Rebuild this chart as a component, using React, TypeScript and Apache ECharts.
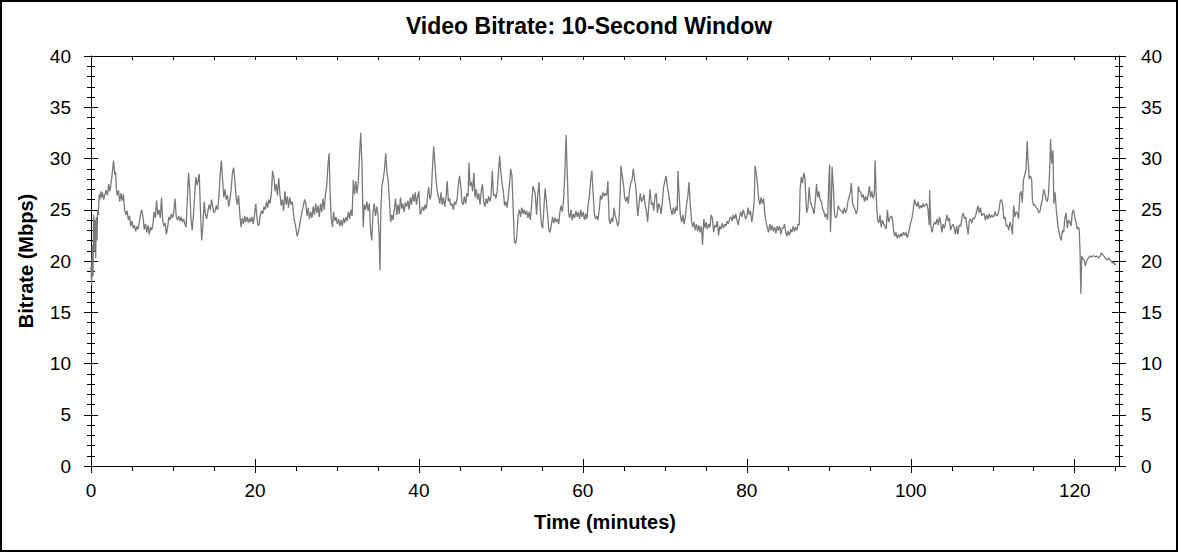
import React, { useEffect, useRef } from "react";
import * as echarts from "echarts";

// Time (minutes) / bitrate (Mbps) pairs.
const segment0to20: number[][] = [
  [0, 19.5], [0.08, 17.6], [0.16, 21.5], [0.24, 18.5], [0.33, 24.5], [0.41, 21], [0.49, 24], [0.57, 20.3], [0.65, 24.3], [0.73, 22],
  [0.81, 25], [0.9, 24.5], [1, 26.5], [1.1, 26], [1.2, 26.8], [1.3, 26.2], [1.4, 26.7], [1.55, 26], [1.7, 26.5], [1.85, 26.9],
  [2, 26.4], [2.15, 27.5], [2.3, 26.8], [2.45, 27.6], [2.6, 28.6], [2.75, 29.8], [2.9, 28.4], [3, 28.7], [3.1, 27], [3.2, 26.4],
  [3.35, 26.9], [3.5, 25.8], [3.65, 26.6], [3.8, 25.9], [3.95, 26.5], [4.1, 25], [4.25, 24.5], [4.4, 24.9], [4.55, 24], [4.7, 24.4],
  [4.85, 23.4], [5, 23.9], [5.15, 23.2], [5.3, 23.5], [5.45, 22.9], [5.6, 23.4], [5.75, 23.1], [5.9, 23.8], [6.05, 24.6], [6.2, 25],
  [6.35, 24.2], [6.5, 23.1], [6.65, 23.6], [6.8, 22.8], [6.95, 23.5], [7.1, 22.6], [7.25, 23.3], [7.4, 23], [7.55, 23.6], [7.7, 24.8],
  [7.85, 24.2], [8, 25.9], [8.15, 24.5], [8.3, 25], [8.45, 24.2], [8.6, 26.2], [8.75, 23.9], [8.9, 23.4], [9.05, 23.7], [9.2, 22.6],
  [9.35, 23.3], [9.5, 24.3], [9.65, 24], [9.8, 24.6], [9.95, 24.2], [10.1, 24.8], [10.25, 26.1], [10.4, 24.3], [10.55, 24], [10.7, 24.4],
  [10.85, 23.9], [11, 24.3], [11.15, 23.8], [11.3, 24.1], [11.45, 23.6], [11.6, 23.3], [11.75, 26], [11.9, 28.6], [12.05, 27], [12.2, 24],
  [12.35, 23], [12.5, 24.5], [12.65, 26.5], [12.8, 28.2], [12.95, 27.4], [13.1, 28], [13.2, 28.5], [13.35, 25], [13.5, 22], [13.65, 23.5],
  [13.8, 25.8], [13.95, 24.6], [14.1, 24.1], [14.25, 24.8], [14.4, 25.5], [14.55, 25], [14.7, 26], [14.85, 25.3], [15, 24.7], [15.15, 24.9],
  [15.3, 25.4], [15.45, 25], [15.6, 26.2], [15.75, 28.3], [15.9, 29.8], [16.05, 28], [16.2, 26.2], [16.35, 27], [16.5, 26], [16.65, 26.4],
  [16.8, 25.3], [16.95, 26], [17.1, 27], [17.25, 28.6], [17.4, 29.1], [17.55, 27.8], [17.7, 26.2], [17.85, 25.5], [18, 26.4], [18.15, 24.6],
  [18.3, 23.3], [18.45, 24.2], [18.6, 23.6], [18.75, 24.4], [18.9, 23.8], [19.05, 24.3], [19.2, 23.7], [19.35, 24.2], [19.5, 23.8], [19.65, 24.3],
  [19.8, 23.6], [19.95, 24.5], [20.1, 25.6], [20.25, 24.2], [20.35, 23.5],
];

const segment20to41: number[][] = [
  [20.5, 23.5], [20.65, 24.5], [20.8, 24.9], [20.95, 24.6], [21.1, 25.3], [21.25, 25], [21.4, 25.8], [21.55, 25.2], [21.7, 26], [21.85, 25.6],
  [22, 26.6], [22.15, 28.8], [22.3, 28.2], [22.45, 26.8], [22.6, 27.5], [22.75, 26.4], [22.9, 28.1], [23.05, 26.5], [23.2, 25.4], [23.35, 26],
  [23.5, 24.9], [23.65, 26.8], [23.8, 25.5], [23.95, 26.3], [24.1, 25.2], [24.25, 26.2], [24.4, 25.5], [24.55, 25.8], [24.7, 24.6], [24.85, 23.8],
  [25, 23.2], [25.15, 22.4], [25.3, 22.8], [25.45, 23.5], [25.6, 24.2], [25.75, 24.9], [25.9, 25.4], [26.05, 26], [26.2, 25.6], [26.35, 24.4],
  [26.5, 25.2], [26.65, 24.1], [26.8, 24.8], [26.95, 24.2], [27.1, 25.3], [27.25, 24.5], [27.4, 25.6], [27.55, 24.7], [27.7, 25.4], [27.85, 24.3],
  [28, 25.6], [28.15, 24.8], [28.3, 26.1], [28.45, 25], [28.6, 26.5], [28.75, 27.3], [28.9, 29.3], [29.05, 30.5], [29.15, 27], [29.3, 24.2],
  [29.45, 23.3], [29.6, 24.8], [29.75, 23.9], [29.9, 24.3], [30.05, 23.6], [30.2, 24.1], [30.35, 23.4], [30.5, 24], [30.65, 23.4], [30.8, 24.2],
  [30.95, 23.7], [31.1, 24.3], [31.25, 23.9], [31.4, 24.8], [31.55, 24.1], [31.7, 25], [31.85, 24.4], [32, 27.9], [32.15, 26.5], [32.3, 27.8],
  [32.45, 26.6], [32.6, 27.6], [32.75, 30.3], [32.9, 32.5], [33.05, 29.5], [33.2, 23.3], [33.35, 25.5], [33.5, 25], [33.65, 25.8], [33.8, 24.9],
  [33.95, 25.6], [34.1, 23], [34.25, 22], [34.4, 24.8], [34.55, 25.6], [34.7, 24.4], [34.85, 25.3], [35, 24.5], [35.15, 22.5], [35.25, 19.1],
  [35.35, 24.8], [35.5, 27.4], [35.65, 28], [35.8, 28.9], [35.95, 30.5], [36.1, 28.6], [36.25, 27.8], [36.4, 26], [36.55, 23.8], [36.7, 24.5],
  [36.85, 24], [37, 25], [37.15, 26.1], [37.3, 24.5], [37.45, 25.5], [37.6, 24.6], [37.75, 26.2], [37.9, 25.1], [38.05, 25.6], [38.2, 24.8],
  [38.35, 25.7], [38.5, 25.3], [38.65, 25.9], [38.8, 25], [38.95, 26.2], [39.1, 25.5], [39.25, 26.5], [39.4, 25.8], [39.55, 26.7], [39.7, 25.5],
  [39.85, 26.3], [40, 26.8], [40.15, 24.5], [40.3, 24.9], [40.45, 25.3], [40.6, 24.9], [40.75, 25.5], [40.9, 25.1], [41.05, 26.3], [41.2, 27.2],
  [41.35, 26],
];

const segment41to63: number[][] = [
  [41.5, 26.5], [41.65, 29], [41.8, 31.2], [41.95, 29.5], [42.1, 27.8], [42.25, 26.8], [42.4, 26.2], [42.55, 25.6], [42.7, 26.7], [42.85, 25.5],
  [43, 26.2], [43.15, 25.3], [43.3, 26.1], [43.45, 27.8], [43.6, 25.8], [43.75, 26.1], [43.9, 25.4], [44.05, 25.6], [44.2, 25], [44.35, 25.8],
  [44.5, 25.5], [44.65, 26], [44.8, 27.3], [44.95, 28.3], [45.1, 27.4], [45.25, 25.7], [45.4, 25.5], [45.55, 26.3], [45.7, 25.6], [45.85, 26.6],
  [46, 26.3], [46.1, 29.6], [46.25, 27.3], [46.4, 27.7], [46.55, 26.8], [46.7, 28.6], [46.85, 26.2], [47, 27], [47.15, 26], [47.3, 26.6],
  [47.45, 25.5], [47.6, 26.8], [47.75, 27.5], [47.9, 25.8], [48.05, 25.3], [48.2, 26.1], [48.35, 25.6], [48.5, 26.3], [48.65, 25.8], [48.8, 26.4],
  [48.95, 28.8], [49.1, 26.4], [49.25, 26.5], [49.4, 26.1], [49.55, 26.8], [49.7, 28.6], [49.85, 30.3], [50, 28.6], [50.15, 27.5], [50.3, 26.8],
  [50.45, 25.4], [50.6, 25.8], [50.75, 25.2], [50.9, 26.2], [51.05, 27.5], [51.2, 29], [51.35, 28.3], [51.5, 25], [51.65, 21.9], [51.8, 21.7],
  [51.95, 22.5], [52.1, 24.5], [52.25, 25], [52.4, 24.3], [52.55, 25.2], [52.7, 24.6], [52.85, 25], [53, 24.5], [53.15, 24.9], [53.3, 24.2],
  [53.45, 24.8], [53.6, 24], [53.75, 25.5], [53.9, 27.3], [54.05, 27], [54.2, 26.5], [54.35, 24.5], [54.5, 26.5], [54.65, 27.7], [54.8, 25],
  [54.95, 23.6], [55.1, 23.2], [55.25, 25.2], [55.4, 27.1], [55.55, 25.8], [55.7, 24.5], [55.85, 23], [56, 22.8], [56.15, 23.5], [56.3, 24.3],
  [56.45, 23.7], [56.6, 24.2], [56.75, 23.8], [56.9, 24.1], [57.05, 23.6], [57.2, 24.8], [57.35, 25.4], [57.5, 24.8], [57.65, 26], [57.8, 28.5],
  [57.95, 32.3], [58.1, 28.5], [58.25, 24.7], [58.4, 24.2], [58.55, 25], [58.7, 24], [58.85, 24.6], [59, 24.2], [59.15, 24.9], [59.3, 24.3],
  [59.45, 24.8], [59.6, 24.1], [59.75, 25], [59.9, 24.3], [60.05, 24.8], [60.2, 24], [60.35, 24.6], [60.5, 24.1], [60.65, 25.6], [60.8, 26.3],
  [60.95, 27.8], [61.1, 28.8], [61.25, 26.6], [61.4, 24.7], [61.55, 24.1], [61.7, 24.4], [61.85, 24], [62, 25], [62.15, 26.4], [62.3, 26],
  [62.45, 26.7], [62.6, 26.3], [62.75, 26.6], [62.9, 26.4], [63.05, 27.8],
];

const segment63to84: number[][] = [
  [63.2, 24], [63.35, 23.6], [63.5, 24.2], [63.65, 23.8], [63.8, 25.2], [63.95, 24.4], [64.1, 24], [64.25, 23.4], [64.4, 23.8], [64.55, 26.5],
  [64.65, 29.3], [64.8, 28.3], [64.95, 27.5], [65.1, 26.2], [65.25, 25.8], [65.4, 26.3], [65.55, 25.6], [65.7, 27], [65.85, 27.6], [66, 27.9],
  [66.15, 29], [66.3, 28], [66.45, 27.3], [66.6, 25.5], [66.7, 24.4], [66.85, 25.5], [67, 26.6], [67.15, 25.8], [67.3, 26], [67.45, 26.5],
  [67.6, 25.4], [67.75, 24.9], [67.9, 23.8], [68.05, 25.5], [68.2, 27], [68.35, 25.5], [68.5, 25.7], [68.65, 24.9], [68.8, 26.4], [68.95, 26.6],
  [69.1, 24.7], [69.25, 25.6], [69.4, 25.3], [69.55, 24.6], [69.7, 25.8], [69.85, 27.2], [70, 27.8], [70.15, 28.3], [70.3, 27.3], [70.45, 26.6],
  [70.6, 25.7], [70.75, 24.9], [70.9, 24.5], [71.05, 25.2], [71.2, 24.6], [71.35, 25.3], [71.5, 24.9], [71.6, 28.8], [71.75, 26.3], [71.9, 24.4],
  [72.05, 23.8], [72.2, 24.5], [72.35, 23.6], [72.5, 24.3], [72.65, 25.5], [72.8, 26.3], [72.95, 27.7], [73.1, 25.5], [73.25, 24], [73.4, 23.3],
  [73.55, 23.8], [73.7, 23], [73.85, 23.6], [74, 22.9], [74.15, 23.5], [74.3, 22.8], [74.45, 23.4], [74.6, 21.6], [74.75, 24.1], [74.9, 23.2],
  [75.05, 23.8], [75.2, 23.1], [75.35, 23.6], [75.5, 23.3], [75.65, 24.5], [75.8, 24.2], [75.95, 22.8], [76.1, 23.5], [76.25, 23.3], [76.4, 23.9],
  [76.55, 22.5], [76.7, 23.4], [76.85, 23.1], [77, 23.7], [77.15, 23.2], [77.3, 23.6], [77.45, 23.4], [77.6, 23.9], [77.75, 23.6], [77.9, 24.1],
  [78.05, 24.3], [78.2, 23.9], [78.35, 24.5], [78.5, 24.1], [78.65, 24.6], [78.8, 24], [78.95, 23.5], [79.1, 24.2], [79.25, 24.8], [79.4, 24.3],
  [79.55, 25], [79.7, 24.6], [79.85, 24.1], [80, 24.4], [80.15, 25.2], [80.3, 24.5], [80.45, 24.9], [80.6, 23.8], [80.75, 24.6], [80.9, 25.8],
  [81, 29.3], [81.15, 28.6], [81.3, 27.5], [81.45, 26], [81.6, 25.5], [81.75, 26.2], [81.9, 25.6], [82.05, 26.1], [82.2, 24.6], [82.35, 23.8],
  [82.5, 23.2], [82.65, 22.8], [82.8, 23.6], [82.95, 23], [83.1, 23.5], [83.25, 22.9], [83.4, 23.3], [83.55, 22.7], [83.7, 23.4], [83.85, 23],
  [84, 23.4], [84.15, 22.6], [84.3, 23.2],
];

const segment84to105: number[][] = [
  [84.45, 23.2], [84.6, 23.6], [84.75, 22.8], [84.9, 22.4], [85.05, 22.9], [85.2, 22.5], [85.35, 23.1], [85.5, 22.8], [85.65, 23.4], [85.8, 22.9],
  [85.95, 23.3], [86.1, 23], [86.25, 23.6], [86.4, 23.5], [86.5, 27], [86.65, 28.2], [86.8, 27.6], [86.95, 28.6], [87.1, 28], [87.2, 26],
  [87.3, 24.7], [87.45, 25.2], [87.6, 27.2], [87.75, 25.8], [87.9, 25.4], [88.05, 25.1], [88.2, 24.6], [88.35, 25.8], [88.5, 27.5], [88.65, 26.2],
  [88.8, 26.8], [88.95, 25.9], [89.1, 25.8], [89.25, 25.1], [89.4, 24.8], [89.55, 24.3], [89.7, 24.6], [89.85, 24], [90, 27.7], [90.1, 29.4],
  [90.2, 22.8], [90.3, 25], [90.4, 29.2], [90.55, 27.3], [90.7, 24.5], [90.85, 24.2], [91, 24.5], [91.15, 25.4], [91.3, 25.1], [91.45, 24.9],
  [91.6, 24.9], [91.75, 24.6], [91.9, 25.2], [92.05, 24.7], [92.2, 25], [92.35, 25.9], [92.5, 26.3], [92.65, 26.8], [92.75, 27.6], [92.9, 25.6],
  [93.05, 25.3], [93.2, 25], [93.35, 24.6], [93.5, 25], [93.6, 27.3], [93.75, 26.8], [93.9, 26.7], [94.05, 26.2], [94.2, 26.5], [94.35, 25.8],
  [94.5, 26.3], [94.65, 25.9], [94.8, 26.4], [94.95, 27.3], [95.1, 26.2], [95.25, 26.8], [95.4, 26.1], [95.55, 26.5], [95.65, 29.8], [95.8, 26],
  [95.95, 24], [96.1, 23.7], [96.25, 24.5], [96.4, 23.3], [96.55, 24], [96.7, 23.6], [96.85, 23.4], [97, 23.1], [97.15, 25], [97.3, 23.8],
  [97.45, 24.1], [97.6, 24.4], [97.75, 24.2], [97.9, 23], [98.05, 22.4], [98.2, 22.8], [98.35, 22.2], [98.5, 22.6], [98.65, 22.3], [98.8, 22.7],
  [98.95, 22.4], [99.1, 22.8], [99.25, 22.5], [99.4, 22.8], [99.55, 22.3], [99.7, 22.6], [99.85, 23.2], [100, 23.8], [100.15, 24.2], [100.3, 25],
  [100.45, 26], [100.6, 25.6], [100.75, 25.3], [100.9, 25.8], [101.05, 25.1], [101.2, 25.4], [101.35, 25.2], [101.5, 25.6], [101.65, 25.3], [101.8, 25.5],
  [101.95, 25.6], [102.1, 25], [102.25, 23.5], [102.3, 26.9], [102.45, 23.4], [102.6, 22.8], [102.75, 23.4], [102.9, 23.8], [103.05, 23.6], [103.2, 24.1],
  [103.35, 23.5], [103.5, 24.3], [103.65, 23.7], [103.8, 22.8], [103.95, 23.6], [104.1, 23.2], [104.25, 23.8], [104.4, 24.5], [104.55, 23.9], [104.7, 24.2],
  [104.85, 23], [105, 23.4], [105.15, 23.6], [105.3, 23.2], [105.45, 22.6],
];

const segment105to125: number[][] = [
  [105.6, 23.4], [105.75, 22.6], [105.9, 23.5], [106.1, 23.4], [106.25, 24.3], [106.4, 24.7], [106.55, 24.1], [106.7, 24.3], [106.85, 23.4], [107, 22.6],
  [107.15, 24], [107.3, 24.1], [107.45, 23.7], [107.6, 24.2], [107.75, 24.1], [107.9, 24.4], [108.05, 24.9], [108.2, 25.4], [108.35, 24.7], [108.5, 25.2],
  [108.65, 24.4], [108.8, 24.6], [108.95, 24.6], [109.1, 24], [109.25, 24.5], [109.4, 24.1], [109.55, 24.6], [109.7, 24.2], [109.85, 24.5], [110, 24.3],
  [110.15, 24.4], [110.3, 24.8], [110.45, 24.4], [110.6, 24.5], [110.75, 24.9], [110.9, 25.8], [111.05, 26], [111.2, 25.6], [111.35, 24.1], [111.5, 24.3],
  [111.65, 23.4], [111.8, 23.5], [111.95, 23], [112.1, 23.8], [112.25, 23.4], [112.4, 22.6], [112.55, 25.4], [112.7, 24.3], [112.85, 24.8], [113, 24.7],
  [113.15, 24.1], [113.3, 26.5], [113.45, 26.8], [113.6, 25.7], [113.75, 27.9], [113.9, 28.4], [114.05, 28.9], [114.2, 31.7], [114.3, 29.9], [114.45, 28],
  [114.6, 28.3], [114.75, 27.9], [114.85, 25.8], [115, 25.4], [115.15, 25.5], [115.3, 25.2], [115.45, 25.1], [115.6, 24.7], [115.75, 24.8], [115.9, 25.5],
  [116.05, 26], [116.2, 27], [116.35, 26.6], [116.5, 26], [116.65, 25.8], [116.8, 26.5], [116.95, 29], [117.05, 31.9], [117.2, 29.5], [117.35, 30.8],
  [117.45, 25.6], [117.6, 26.7], [117.75, 25], [117.9, 23.8], [118.05, 22.9], [118.2, 22.4], [118.35, 22], [118.5, 23], [118.65, 22.8], [118.8, 24.2],
  [118.95, 24.7], [119.1, 23.2], [119.25, 24], [119.4, 23.8], [119.55, 23.4], [119.7, 24.7], [119.85, 25], [120, 24.3], [120.15, 23.8], [120.3, 23.1],
  [120.45, 23.3], [120.55, 23.1], [120.65, 20.8], [120.75, 16.8], [120.85, 20.5], [121, 20.2], [121.15, 20.1], [121.3, 19.5], [121.45, 20], [121.6, 20.2],
  [121.75, 20.4], [121.9, 20.5], [122.05, 20.4], [122.2, 20.5], [122.35, 20.5], [122.5, 20.4], [122.65, 20.5], [122.8, 20.4], [122.95, 20.3], [123.1, 20.5],
  [123.25, 20.8], [123.4, 20.6], [123.55, 20.5], [123.7, 20.3], [123.85, 20.2], [124, 20.1], [124.15, 20.3], [124.3, 20.1], [124.45, 20], [124.6, 19.8],
  [124.75, 19.9], [124.9, 19.6], [125.05, 19.7],
];

const xMajorTicks = [0, 20, 40, 60, 80, 100, 120];
const xMinorTicks = [0, 5, 10, 15, 20, 25, 30, 35, 40, 45, 50, 55, 60, 65, 70, 75, 80, 85, 90, 95, 100, 105, 110, 115, 120, 125];
const xMax = 125.4;
const yMin = 0;
const yMax = 40;
const yStep = 5;

const TITLE = "Video Bitrate: 10-Second Window";
const X_NAME = "Time (minutes)";
const Y_NAME = "Bitrate (Mbps)";

const FONT = '"Liberation Sans", Arial, sans-serif';
const BLACK = "#000";

export default function App() {
  const ref = useRef<HTMLDivElement>(null);

  useEffect(() => {
    if (!ref.current) return;
    const chart = echarts.init(ref.current, undefined, { renderer: "svg" });
    const data = ([] as number[][]).concat(
      segment0to20,
      segment20to41,
      segment41to63,
      segment63to84,
      segment84to105,
      segment105to125
    );

    const tickLine = { color: BLACK, width: 1 };
    const labelFont = { fontFamily: FONT, fontSize: 19, color: BLACK };
    const nameFont = { fontFamily: FONT, fontSize: 20, fontWeight: "bold" as const, color: BLACK };

    const xBase = {
      type: "value" as const,
      min: 0,
      max: xMax,
      splitLine: { show: false },
      axisLine: { show: false, onZero: false, lineStyle: tickLine },
      axisLabel: { show: false },
      axisTick: { show: false },
    };

    const yBase = {
      type: "value" as const,
      min: yMin,
      max: yMax,
      interval: yStep,
      splitLine: { show: false },
      axisLine: { show: false, onZero: false, lineStyle: tickLine },
      axisLabel: { show: false },
      minorTick: { show: true, splitNumber: 5, length: 4, lineStyle: tickLine },
      minorSplitLine: { show: false },
    };

    chart.setOption({
      animation: false,
      backgroundColor: "#fff",
      title: {
        text: TITLE,
        left: "center",
        top: 14,
        padding: 0,
        textStyle: { fontFamily: FONT, fontSize: 23, fontWeight: "bold", color: BLACK },
      },
      grid: { left: 91, right: 59, top: 56, bottom: 86, containLabel: false, outerBoundsMode: "none" },
      xAxis: [
        {
          ...xBase,
          position: "bottom",
          axisLine: { show: true, onZero: false, lineStyle: tickLine },
          axisTick: { show: true, inside: false, length: 7, customValues: xMajorTicks, lineStyle: tickLine },
          axisLabel: { show: true, customValues: xMajorTicks, margin: 15, ...labelFont },
          name: X_NAME,
          nameLocation: "middle",
          nameGap: 46,
          nameTextStyle: nameFont,
        },
        {
          ...xBase,
          position: "bottom",
          axisTick: { show: true, inside: true, length: 7, customValues: xMajorTicks, lineStyle: tickLine },
        },
        {
          ...xBase,
          position: "bottom",
          axisTick: { show: true, inside: false, length: 5, customValues: xMinorTicks, lineStyle: tickLine },
        },
        {
          ...xBase,
          position: "top",
          axisLine: { show: true, onZero: false, lineStyle: tickLine },
          axisTick: { show: true, inside: true, length: 4, customValues: xMinorTicks, lineStyle: tickLine },
        },
      ],
      yAxis: [
        {
          ...yBase,
          position: "left",
          axisLine: { show: true, onZero: false, lineStyle: tickLine },
          axisTick: { show: true, inside: false, length: 7, lineStyle: tickLine },
          axisLabel: { show: true, margin: 20, ...labelFont },
          name: Y_NAME,
          nameLocation: "middle",
          nameGap: 55,
          nameTextStyle: nameFont,
        },
        {
          ...yBase,
          position: "left",
          axisTick: { show: true, inside: true, length: 7, lineStyle: tickLine },
        },
        {
          ...yBase,
          position: "right",
          axisLine: { show: true, onZero: false, lineStyle: tickLine },
          axisTick: { show: true, inside: false, length: 7, lineStyle: tickLine },
          axisLabel: { show: true, margin: 22, ...labelFont },
        },
        {
          ...yBase,
          position: "right",
          axisTick: { show: true, inside: true, length: 7, lineStyle: tickLine },
        },
      ],
      series: [
        {
          type: "line",
          xAxisIndex: 0,
          yAxisIndex: 0,
          data,
          showSymbol: false,
          symbol: "none",
          silent: true,
          lineStyle: { color: "#7a7a7a", width: 1.3 },
        },
      ],
      graphic: [
        {
          type: "rect",
          silent: true,
          z: 100,
          shape: { x: 1, y: 1, width: 1176, height: 550 },
          style: { fill: "none", stroke: BLACK, lineWidth: 2 },
        },
      ],
    });

    return () => {
      chart.dispose();
    };
  }, []);

  return (
    <div
      ref={ref}
      style={{ position: "fixed", left: 0, top: 0, width: 1178, height: 552, background: "#fff" }}
    />
  );
}
